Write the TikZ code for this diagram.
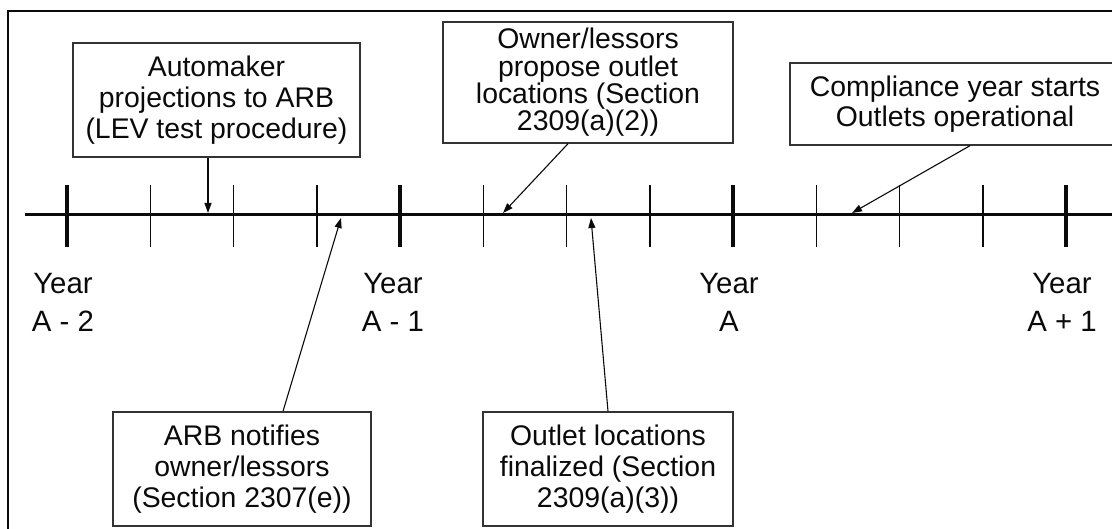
\documentclass[tikz,border=0pt]{standalone}
\usepackage{fontspec}
\setmainfont{Liberation Sans}
\usetikzlibrary{arrows.meta,calc}
\definecolor{ink}{HTML}{0A0A0A}
\definecolor{boxline}{HTML}{333333}
\begin{document}
\begin{tikzpicture}[x=1bp,y=-1bp,
  evbox/.style={draw=boxline, line width=1.4bp, inner sep=0pt, align=center, text=ink, font=\fontsize{28.5}{31}\selectfont},
  yearlbl/.style={inner sep=0pt, align=center, anchor=north, text=ink, font=\fontsize{29.5}{38}\selectfont},
  arr/.style={draw=ink, line width=1.1bp, -{Triangle[length=10bp,width=7bp]}},
  majortick/.style={draw=ink, line width=3.4bp},
  minortick/.style={draw=ink, line width=1.5bp}]
\useasboundingbox (0,0) rectangle (1112,529);
\clip (0,0) rectangle (1112,529);
% outer frame (runs past the right and bottom edges)
\draw[line width=2.2bp, ink] (8,11) rectangle (1140,560);
% timeline
\coordinate (tlL) at (25,215);
\coordinate (tlR) at (1112,215);
\draw[line width=3bp, ink] (tlL) -- (tlR);
\foreach \i in {0,...,12} {
  \coordinate (t\i) at ({67+83.25*\i},215);
}
\foreach \i in {1,2,3,5,6,7,9,10,11} {
  \draw[minortick] ($(t\i)+(0,-30)$) -- ($(t\i)+(0,32)$);
}
\foreach \i in {0,4,8,12} {
  \draw[majortick] ($(t\i)+(0,-30)$) -- ($(t\i)+(0,32)$);
}
% year labels
\node[yearlbl] (y0) at (63,273) {Year\\A - 2};
\node[yearlbl] (y1) at (393,273) {Year\\A - 1};
\node[yearlbl] (y2) at (729,273) {Year\\A};
\node[yearlbl] (y3) at (1062,273) {Year\\A + 1};
% event boxes
\node[evbox, minimum width=287bp, minimum height=114bp] (b1) at (216.5,100)
  {Automaker\\projections to ARB\\(LEV test procedure)};
\node[evbox, minimum width=290bp, minimum height=121bp, font=\fontsize{28.5}{27.5}\selectfont] (b2) at (588,82.5)
  {Owner/lessors\\propose outlet\\locations (Section\\2309(a)(2))};
\node[evbox, minimum width=330bp, minimum height=82bp, font=\fontsize{28.5}{30}\selectfont] (b3) at (955,104)
  {Compliance year starts\\Outlets operational};
\node[evbox, minimum width=258bp, minimum height=114bp] (b4) at (242,469)
  {ARB notifies\\owner/lessors\\(Section 2307(e))};
\node[evbox, minimum width=250bp, minimum height=114bp] (b5) at (608,469)
  {Outlet locations\\finalized (Section\\2309(a)(3))};
% arrow targets on the timeline
\coordinate (p1) at (208,213);
\coordinate (p2) at (503,213);
\coordinate (p3) at (852,213);
\coordinate (p4) at (341,218);
\coordinate (p5) at (591,218);
\draw[arr] (b1.south -| p1) -- (p1);
\draw[arr] ($(b2.south)+(-20,0)$) -- (p2);
\draw[arr] ($(b3.south)+(15,0)$) -- (p3);
\draw[arr] ($(b4.north)+(41,0)$) -- (p4);
\draw[arr] (b5.north) -- (p5);
\end{tikzpicture}
\end{document}
